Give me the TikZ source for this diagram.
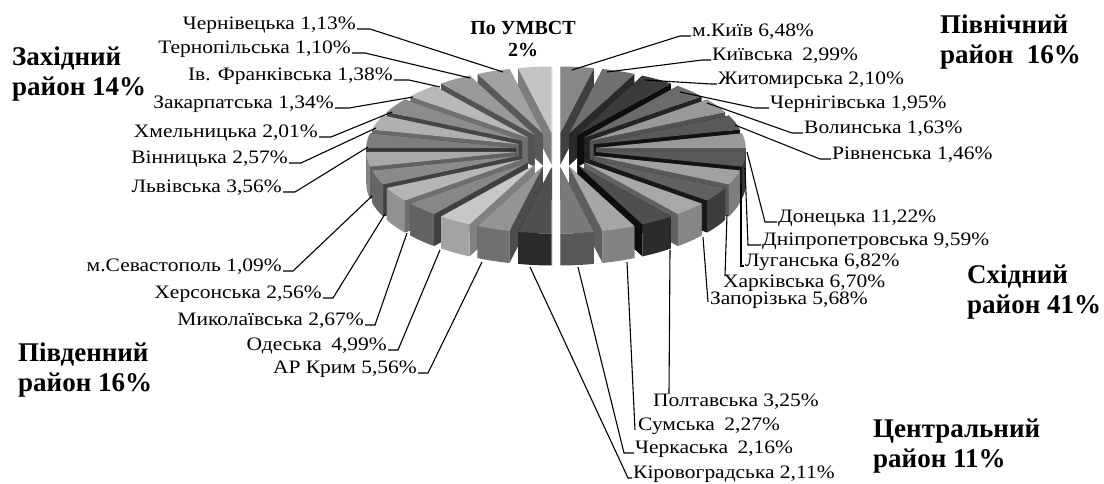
\documentclass[tikz,border=0pt]{standalone}
\usepackage{fontspec}
\setmainfont{Liberation Serif}
\newfontfamily\labfont[FakeStretch=1.13]{Liberation Serif}
\newfontfamily\regfont{Liberation Serif}
\usetikzlibrary{calc}
\newcommand\drawslice[1]{%
 \pgfmathsetmacro\aA{90-360/28*(#1)}%
 \pgfmathsetmacro\aB{\aA-360/28}%
 \pgfmathsetmacro\aM{\aA-180/28}%
 \pgfmathtruncatemacro\g{\shades[#1]}%
 \pgfmathtruncatemacro\gf{min(\g+14,92)}%
 \pgfmathtruncatemacro\gs{min(\g+28,95)}%
 \pgfmathsetmacro\Ax{556+40*cos(\aM)}%
 \pgfmathsetmacro\Ay{-150+17.6*sin(\aM)}%
 \pgfmathsetmacro\Aby{\Ay-32}%
 \coordinate (A) at (\Ax,\Ay);
 \coordinate (Ab) at (\Ax,\Aby);
 \ifnum#1<14
   \fill[black!\gs] (A) -- ++(\aA:150 and 66) -- ++(0,-32) -- (Ab) -- cycle;
   \fill[black!\gs] (A) -- ++(\aB:150 and 66) -- ++(0,-32) -- (Ab) -- cycle;
 \else
   \fill[black!\gs] (A) -- ++(\aB:150 and 66) -- ++(0,-32) -- (Ab) -- cycle;
   \fill[black!\gs] (A) -- ++(\aA:150 and 66) -- ++(0,-32) -- (Ab) -- cycle;
 \fi
 \pgfmathsetmacro\vs{min(\aA,0)}%
 \pgfmathsetmacro\ve{max(\aB,-180)}%
 \pgfmathtruncatemacro\vis{\vs>\ve}%
 \ifnum\vis=1
   \fill[black!\gf] (A) ++(\vs:150 and 66) arc[start angle=\vs,end angle=\ve,x radius=150,y radius=66] -- ++(0,-32) arc[start angle=\ve,end angle=\vs,x radius=150,y radius=66] -- cycle;
 \fi
 \fill[black!\g] (A) -- ++(\aA:150 and 66) arc[start angle=\aA,end angle=\aB,x radius=150,y radius=66] -- cycle;
}
\begin{document}
\begin{tikzpicture}[x=1pt,y=1pt,
 lab/.style={font=\labfont\fontsize{19}{21}\selectfont, inner sep=0pt},
 reg/.style={font=\regfont\fontsize{27}{30}\selectfont\bfseries, inner sep=0pt, align=left},
 lead/.style={draw=black, line width=1.1pt}]
\useasboundingbox (0,0) rectangle (1104,-483);
\def\shades{{47,56,77,58,40,65,40,65,37,62,34,69,35,52,69,42,22,47,29,46,34,51,31,45,28,40,37,23}}
\foreach \j in {0,...,13}{
  \drawslice{\j}
  \pgfmathtruncatemacro\k{27-\j}
  \drawslice{\k}
}
% slice anchors
\coordinate (q0) at (572,-70);  \coordinate (q1) at (607,-72);
\coordinate (q2) at (645,-80);  \coordinate (q3) at (680,-92);
\coordinate (q4) at (707,-103); \coordinate (q5) at (735,-125);
\coordinate (q6) at (747,-152); \coordinate (q7) at (745,-168);
\coordinate (q8) at (741,-185); \coordinate (q9) at (727,-215);
\coordinate (q10) at (703,-237); \coordinate (q11) at (670,-250);
\coordinate (q12) at (627,-262); \coordinate (q13) at (578,-267);
\coordinate (q14) at (530,-267); \coordinate (p15) at (482,-262);
\coordinate (p16) at (440,-250); \coordinate (p17) at (407,-233);
\coordinate (p18) at (385,-214); \coordinate (p19) at (372,-196);
\coordinate (p20) at (368,-147); \coordinate (p21) at (376,-128);
\coordinate (p22) at (392,-112); \coordinate (p23) at (413,-97);
\coordinate (p24) at (440,-87);  \coordinate (p25) at (470,-78);
\coordinate (p26) at (503,-72);
% right labels
\node[lab,anchor=base west] (r0) at (692,-36) {м.Київ 6,48\%};
\node[lab,anchor=base west] (r1) at (712,-60) {Київська\enspace 2,99\%};
\node[lab,anchor=base west] (r2) at (718,-84) {Житомирська 2,10\%};
\node[lab,anchor=base west] (r3) at (770,-108) {Чернігівська 1,95\%};
\node[lab,anchor=base west] (r4) at (804,-133) {Волинська 1,63\%};
\node[lab,anchor=base west] (r5) at (832,-159) {Рівненська 1,46\%};
\node[lab,anchor=base west] (r6) at (778,-222) {Донецька 11,22\%};
\node[lab,anchor=base west] (r7) at (762,-245) {Дніпропетровська 9,59\%};
\node[lab,anchor=base west] (r8) at (745,-266) {Луганська 6,82\%};
\node[lab,anchor=base west] (r9) at (723,-287) {Харківська 6,70\%};
\node[lab,anchor=base west] (r10) at (710,-304) {Запорізька 5,68\%};
\node[lab,anchor=base west] (r11) at (653,-406) {Полтавська 3,25\%};
\node[lab,anchor=base west] (r12) at (638,-430) {Сумська\enspace 2,27\%};
\node[lab,anchor=base west] (r13) at (635,-453) {Черкаська\enspace 2,16\%};
\node[lab,anchor=base west] (r14) at (633,-478) {Кіровоградська 2,11\%};
% left labels
\node[lab,anchor=base east] (l15) at (417,-373) {АР Крим 5,56\%};
\node[lab,anchor=base east] (l16) at (387,-350) {Одеська\enspace 4,99\%};
\node[lab,anchor=base east] (l17) at (364,-325) {Миколаївська 2,67\%};
\node[lab,anchor=base east] (l18) at (322,-298) {Херсонська 2,56\%};
\node[lab,anchor=base east] (l19) at (282,-271) {м.Севастополь 1,09\%};
\node[lab,anchor=base east] (l20) at (282,-192) {Львівська 3,56\%};
\node[lab,anchor=base east] (l21) at (288,-163) {Вінницька 2,57\%};
\node[lab,anchor=base east] (l22) at (318,-137) {Хмельницька 2,01\%};
\node[lab,anchor=base east] (l23) at (334,-108) {Закарпатська 1,34\%};
\node[lab,anchor=base east] (l24) at (393,-80) {Ів. Франківська 1,38\%};
\node[lab,anchor=base east] (l25) at (351,-53) {Тернопільська 1,10\%};
\node[lab,anchor=base east] (l26) at (356,-29) {Чернівецька 1,13\%};
% leaders right
\draw[lead] ([xshift=-1pt]r0.base west) -- ++(-11,0) -- (q0);
\draw[lead] ([xshift=-1pt]r1.base west) -- ++(-9,0) -- (q1);
\draw[lead] ([xshift=-1pt]r2.base west) -- ++(-6,0) -- (q2);
\draw[lead] ([xshift=-1pt]r3.base west) -- ++(-14,0) -- (q3);
\draw[lead] ([xshift=-1pt]r4.base west) -- ++(-11,0) -- (q4);
\draw[lead] ([xshift=-1pt]r5.base west) -- ++(-11,0) -- (q5);
\draw[lead] ([xshift=-1pt]r6.base west) -- ++(-12,0) -- (q6);
\draw[lead] ([xshift=-1pt]r7.base west) -- ++(-13,0) -- (q7);
\draw[lead] ([xshift=-1pt]r8.base west) -- ++(-3,0) -- (q8);
\draw[lead] ([xshift=2pt,yshift=-2pt]r9.north west) -- (q9);
\draw[lead] ([xshift=-2pt,yshift=2pt]r10.base west) -- (q10);
\draw[lead] ([xshift=16pt,yshift=-1pt]r11.north west) -- (q11);
\draw[lead] ([xshift=-3pt]r12.base west) -- (q12);
\draw[lead] ([xshift=-1pt]r13.base west) -- ++(-10,0) -- (q13);
\draw[lead] ([xshift=-1pt]r14.base west) -- ++(-4,0) -- (q14);
% leaders left
\draw[lead] ([xshift=1pt]l15.base east) -- ++(10,0) -- (p15);
\draw[lead] ([xshift=1pt]l16.base east) -- ++(10,0) -- (p16);
\draw[lead] ([xshift=1pt]l17.base east) -- ++(10,0) -- (p17);
\draw[lead] ([xshift=1pt]l18.base east) -- ++(10,0) -- (p18);
\draw[lead] ([xshift=1pt]l19.base east) -- ++(10,0) -- (p19);
\draw[lead] ([xshift=1pt]l20.base east) -- ++(12,0) -- (p20);
\draw[lead] ([xshift=1pt]l21.base east) -- ++(12,0) -- (p21);
\draw[lead] ([xshift=1pt]l22.base east) -- ++(12,0) -- (p22);
\draw[lead] ([xshift=1pt]l23.base east) -- ++(14,0) -- (p23);
\draw[lead] ([xshift=1pt]l24.base east) -- ++(15,0) -- (p24);
\draw[lead] ([xshift=1pt]l25.base east) -- ++(13,0) -- (p25);
\draw[lead] ([xshift=1pt]l26.base east) -- ++(13,0) -- (p26);
% region titles
\node[reg,anchor=west] (tw) at (12,-74) {Західний\\район 14\%};
\node[reg,anchor=west] (tn) at (940,-42) {Північний\\район\enspace 16\%};
\node[reg,anchor=west] (te) at (967,-292) {Східний\\район 41\%};
\node[reg,anchor=west] (ts) at (18,-370) {Південний\\район 16\%};
\node[reg,anchor=west] (tc) at (873,-446) {Центральний\\район 11\%};
\node[font=\regfont\fontsize{20}{22}\selectfont\bfseries, inner sep=0pt, align=center] (tu) at (523,-39) {По УМВСТ\\2\%};
\end{tikzpicture}
\end{document}
